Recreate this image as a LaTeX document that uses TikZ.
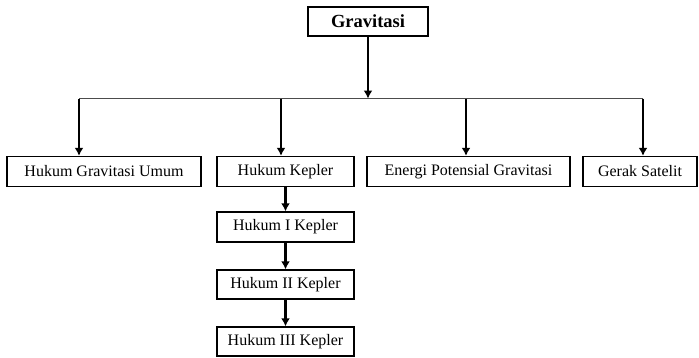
\documentclass[tikz,border=0pt]{standalone}
\usepackage{fontspec}
\setmainfont{Liberation Serif}
\usetikzlibrary{arrows.meta}

\begin{document}
\begin{tikzpicture}[x=1pt, y=-1pt, >={Latex[length=8pt,width=9pt]},
  box/.style={draw, line width=1.4pt, inner sep=0pt, minimum height=30pt,
    font=\fontsize{16}{18}\selectfont},
  link/.style={->, line width=2.4pt},
  bar/.style={line width=1.8pt, black!70}]
\useasboundingbox (0,0) rectangle (699,357);

\node[box, minimum width=120pt, minimum height=29pt,
  font=\fontsize{18.5}{20}\selectfont\bfseries] (grav) at (368,21.5) {Gravitasi};

\node[box, minimum width=194pt] (hgu) at (104,171.5) {Hukum Gravitasi Umum};
\node[box, minimum width=137pt] (kep) at (285.5,171.5) {Hukum Kepler};
\node[box, minimum width=203pt] (epg) at (468.5,171.5) {Energi Potensial Gravitasi};
\node[box, minimum width=114pt] (gs) at (640,171.5) {Gerak Satelit};

\node[box, minimum width=137pt] (k1) at (285.5,227) {Hukum I Kepler};
\node[box, minimum width=137pt, minimum height=29pt] (k2) at (285.5,284.5) {Hukum II Kepler};
\node[box, minimum width=137pt, minimum height=29pt] (k3) at (285.5,341.5) {Hukum III Kepler};

\coordinate (b1) at (79,98.5);
\coordinate (b2) at (281,98.5);
\coordinate (b3) at (466,98.5);
\coordinate (b4) at (643,98.5);

\draw[bar] (b1) -- (b4);
\draw[link] (grav) -- (grav |- b1);

\draw[link] (b1) -- (b1 |- hgu.north);
\draw[link] (b2) -- (b2 |- kep.north);
\draw[link] (b3) -- (b3 |- epg.north);
\draw[link] (b4) -- (b4 |- gs.north);

\draw[link] (kep) -- (k1);
\draw[link] (k1) -- (k2);
\draw[link] (k2) -- (k3);
\end{tikzpicture}
\end{document}
